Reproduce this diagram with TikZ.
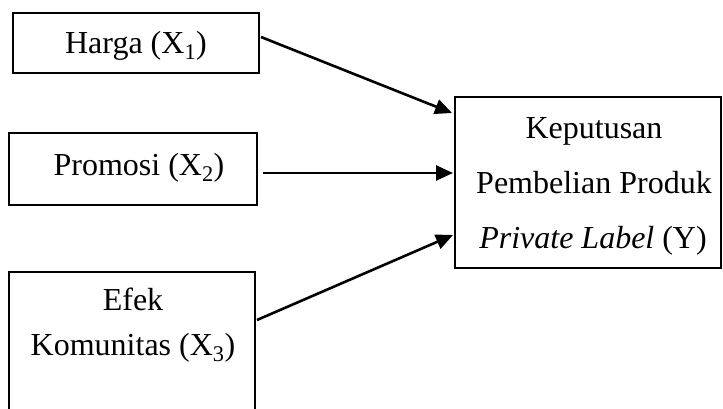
\documentclass[tikz,border=0pt]{standalone}
\usepackage{fontspec}
\setmainfont{Liberation Serif}
\usetikzlibrary{arrows.meta,calc}
\begin{document}
\begin{tikzpicture}[x=1pt,y=-1pt,
  box/.style={draw,line width=1.7pt,inner sep=0pt,outer sep=0pt},
  lbl/.style={font=\fontsize{32}{32}\selectfont,inner sep=0pt,anchor=base},
  arr/.style={line width=2.6pt,-{Triangle[length=17pt,width=15pt]}}]
\useasboundingbox (0,0) rectangle (723,408);
\clip (0,0) rectangle (723,408);
\node[box,minimum width=246pt,minimum height=60pt] (b1) at (136,43) {};
\node[box,minimum width=248pt,minimum height=72pt] (b2) at (133,169) {};
\node[box,minimum width=246pt,minimum height=168pt] (b3) at (132,356) {};
\node[box,minimum width=266pt,minimum height=171pt] (by) at (588,182.5) {};
\node[lbl] (t1) at (136,53) {Harga (X\textsubscript{1})};
\node[lbl] (t2) at (139,175) {Promosi (X\textsubscript{2})};
\node[lbl] (t3a) at (133,310) {Efek};
\node[lbl] (t3b) at (133,355) {Komunitas (X\textsubscript{3})};
\node[lbl] (ty1) at (594,138) {Keputusan};
\node[lbl] (ty2) at (594,193) {Pembelian Produk};
\node[lbl] (ty3) at (593,248) {\textit{Private Label} (Y)};
\draw[arr] ($(b1.east)+(2,-6)$) -- ($(by.west)+(-3,-69.5)$);
\draw[arr] ($(b2.east)+(6,4)$) -- ($(by.west)+(-2,-9.5)$);
\draw[arr] ($(b3.east)+(2,-36)$) -- ($(by.west)+(-2,52.5)$);
\end{tikzpicture}
\end{document}
